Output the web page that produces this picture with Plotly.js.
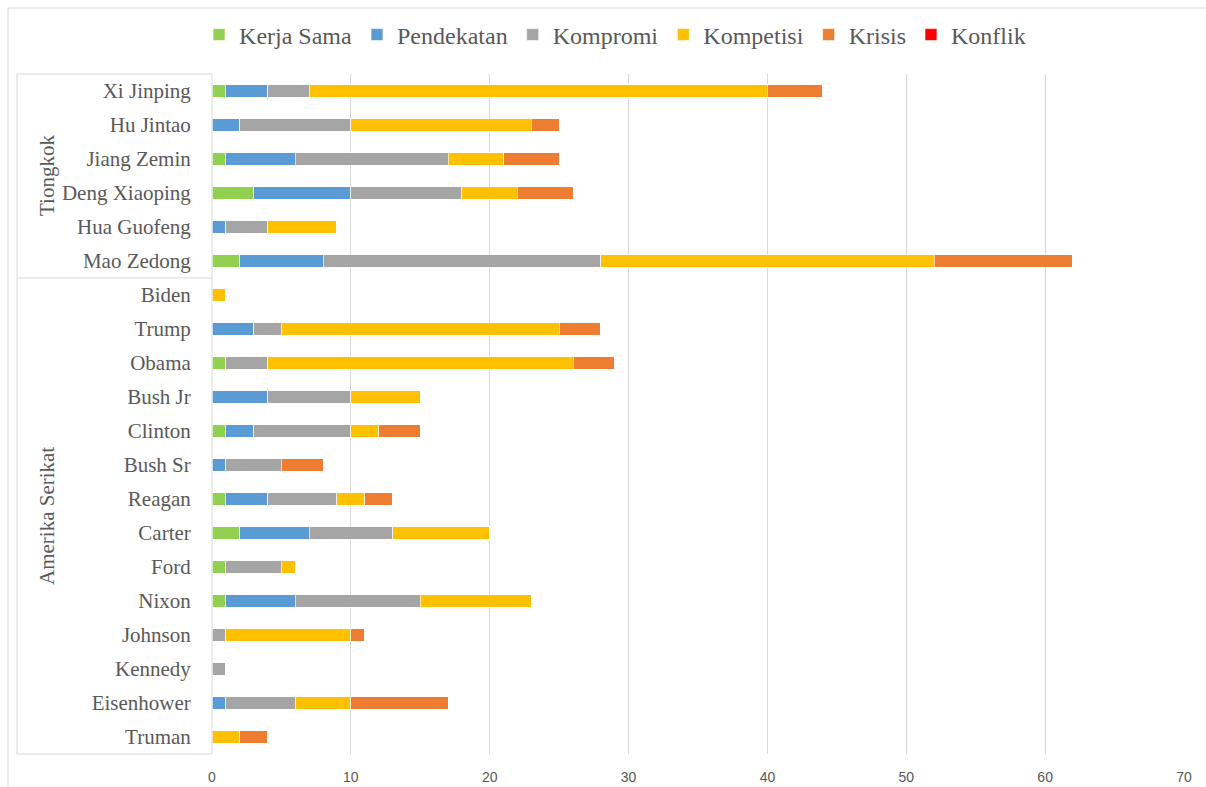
<!DOCTYPE html>
<html>
<head>
<meta charset="utf-8">
<script src="https://cdn.plot.ly/plotly-3.0.1.min.js"></script>
<style>
  html, body { margin: 0; padding: 0; background: #fff; }
  #chart { width: 1206px; height: 787px; }
</style>
</head>
<body>
<div id="chart"></div>
<script>
// bottom to top, as the axis draws them
const presidents = ['Truman', 'Eisenhower', 'Kennedy', 'Johnson', 'Nixon', 'Ford', 'Carter', 'Reagan',
  'Bush Sr', 'Clinton', 'Bush Jr', 'Obama', 'Trump', 'Biden',
  'Mao Zedong', 'Hua Guofeng', 'Deng Xiaoping', 'Jiang Zemin', 'Hu Jintao', 'Xi Jinping'];

const groupNames = ['Amerika Serikat', 'Tiongkok'];
const groupSizes = [14, 6];

const kerjaSama  = [0, 0, 0, 0, 1, 1, 2, 1, 0, 1, 0, 1, 0, 0, 2, 0, 3, 1, 0, 1];
const pendekatan = [0, 1, 0, 0, 5, 0, 5, 3, 1, 2, 4, 0, 3, 0, 6, 1, 7, 5, 2, 3];
const kompromi   = [0, 5, 1, 1, 9, 4, 6, 5, 4, 7, 6, 3, 2, 0, 20, 3, 8, 11, 8, 3];
const kompetisi  = [2, 4, 0, 9, 8, 1, 7, 2, 0, 2, 5, 22, 20, 1, 24, 5, 4, 4, 13, 33];
const krisis     = [2, 7, 0, 1, 0, 0, 0, 2, 3, 3, 0, 3, 3, 0, 10, 0, 4, 4, 2, 4];
const konflik    = [0, 0, 0, 0, 0, 0, 0, 0, 0, 0, 0, 0, 0, 0, 0, 0, 0, 0, 0, 0];

const seriesNames = ['Kerja Sama', 'Pendekatan', 'Kompromi', 'Kompetisi', 'Krisis', 'Konflik'];
const seriesValues = [kerjaSama, pendekatan, kompromi, kompetisi, krisis, konflik];
const seriesColors = ['#92D050', '#5B9BD5', '#A5A5A5', '#FFC000', '#ED7D31', '#FF0000'];

const grey = '#595959';
const serif = '"Liberation Serif", "Times New Roman", serif';
const lineColor = '#d9d9d9';

const traces = seriesNames.map((name, i) => ({
  type: 'bar',
  orientation: 'h',
  name: name,
  x: seriesValues[i],
  y: presidents,
  marker: { color: seriesColors[i], line: { color: 'rgba(255,255,255,0.8)', width: 0.8 } },
  hoverinfo: 'x+y+name'
}));

// plot area in pixels, used to place the frame lines in the margins
const L = 212, R = 1184, T = 74, B = 754;
const px = v => (v - L) / (R - L);
const py = v => (B - v) / (B - T);

const shapes = [
  // outer chart frame
  { type: 'line', xref: 'paper', yref: 'paper', x0: px(8), x1: px(8), y0: py(8), y1: py(800), line: { color: lineColor, width: 1 } },
  { type: 'line', xref: 'paper', yref: 'paper', x0: px(8), x1: px(1220), y0: py(8), y1: py(8), line: { color: lineColor, width: 1 } },
  // category group box
  { type: 'rect', xref: 'paper', yref: 'paper', x0: px(17), x1: 0, y0: 0, y1: 1, line: { color: lineColor, width: 1 } }
];
const annotations = [];

let start = -0.5;
groupNames.forEach((g, i) => {
  const end = start + groupSizes[i];
  if (i < groupNames.length - 1) {
    shapes.push({ type: 'line', xref: 'paper', yref: 'y', x0: px(17), x1: 0, y0: end, y1: end,
      line: { color: lineColor, width: 1 } });
  }
  annotations.push({
    xref: 'paper', yref: 'y', x: px(33), y: (start + end) / 2,
    text: g, textangle: -90, showarrow: false,
    font: { family: serif, size: 21, color: grey }
  });
  start = end;
});

const layout = {
  width: 1206,
  height: 787,
  margin: { l: L, r: 1206 - R, t: T, b: 787 - B },
  paper_bgcolor: '#ffffff',
  plot_bgcolor: '#ffffff',
  barmode: 'stack',
  bargap: 0.62,
  showlegend: true,
  legend: {
    orientation: 'h',
    xref: 'container', yref: 'container',
    x: 0.51, xanchor: 'center',
    y: 1 - 35 / 787, yanchor: 'middle',
    traceorder: 'normal',
    font: { family: serif, size: 24, color: grey },
    itemwidth: 30
  },
  xaxis: {
    range: [0, 70],
    dtick: 10,
    showgrid: true,
    gridcolor: lineColor,
    gridwidth: 1,
    zeroline: false,
    showline: false,
    ticks: 'outside',
    ticklen: 10,
    tickcolor: 'rgba(0,0,0,0)',
    tickfont: { family: '"Liberation Sans Narrow", "Liberation Sans", sans-serif', size: 14, color: grey },
    fixedrange: true
  },
  yaxis: {
    type: 'category',
    categoryorder: 'array',
    categoryarray: presidents,
    range: [-0.5, presidents.length - 0.5],
    showgrid: false,
    zeroline: false,
    showline: false,
    ticks: 'outside',
    ticklen: 16,
    tickcolor: 'rgba(0,0,0,0)',
    tickfont: { family: serif, size: 21, color: grey },
    fixedrange: true
  },
  shapes: shapes,
  annotations: annotations
};

Plotly.newPlot('chart', traces, layout, { displayModeBar: false, responsive: false });
</script>
</body>
</html>
